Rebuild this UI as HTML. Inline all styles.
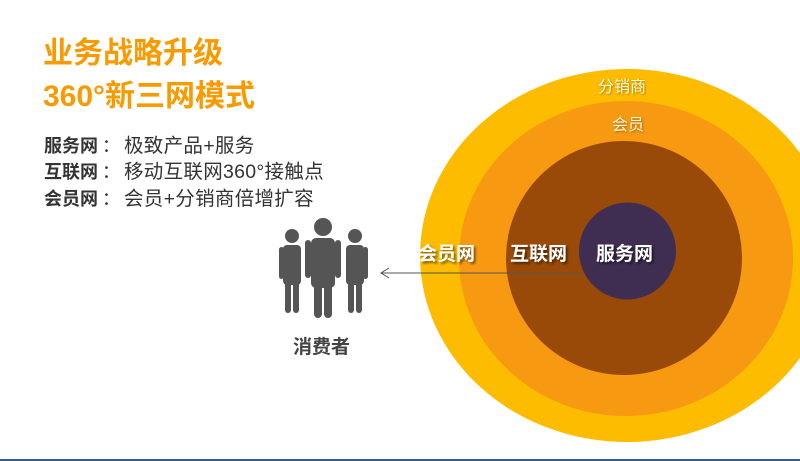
<!DOCTYPE html>
<html><head><meta charset="utf-8"><style>
body{margin:0;width:800px;height:461px;background:#fff;position:relative;overflow:hidden;font-family:"Liberation Sans","Noto Sans CJK SC",sans-serif}
.t{position:absolute;white-space:nowrap}
.h{color:#f99a00;font-weight:bold;font-size:30px;left:43px}
.l{left:44px;font-size:18px;color:#333}
.l b{color:#333}
.l i{font-style:normal;display:inline-block;width:26px;text-align:center}
.l span{font-size:19.5px;letter-spacing:0.3px}
.w{color:#fff;font-weight:bold;font-size:19px;text-shadow:2px 2px 2px rgba(0,0,0,.5)}
.s{color:#fff7d8;font-size:16px;text-shadow:1px 1px 2px rgba(0,0,0,.35)}
</style></head><body>
<svg width="800" height="461" style="position:absolute;left:0;top:0">
<ellipse cx="627" cy="255.5" rx="207" ry="186.5" fill="#fdbc00"/>
<ellipse cx="626" cy="258.5" rx="167" ry="157.5" fill="#f79a12"/>
<ellipse cx="624" cy="258" rx="118" ry="117" fill="#994a08"/>
<circle cx="627.5" cy="251" r="48.5" fill="#402e52"/>
<line x1="582" y1="273" x2="381" y2="273" stroke="#555" stroke-width="1"/>
<polyline points="389,268 381,273 389,278" fill="none" stroke="#555" stroke-width="1"/>
<rect x="0" y="459" width="800" height="2" fill="#3d5a8c"/>
<g fill="#555">
<circle cx="323" cy="227" r="9"/>
<rect x="311" y="238" width="24" height="50" rx="5"/>
<rect x="314" y="280" width="8" height="38" rx="4"/><rect x="324" y="280" width="8" height="38" rx="4"/>
<rect x="305" y="240" width="6" height="38" rx="3"/><rect x="335" y="240" width="6" height="38" rx="3"/>
<circle cx="292" cy="236" r="7"/>
<rect x="283" y="245" width="18" height="40" rx="4"/>
<rect x="285" y="280" width="6" height="33" rx="3"/><rect x="293" y="280" width="6" height="33" rx="3"/>
<rect x="279" y="247" width="5" height="32" rx="2.5"/>
<circle cx="355" cy="236" r="7"/>
<rect x="346" y="245" width="18" height="40" rx="4"/>
<rect x="348" y="280" width="6" height="33" rx="3"/><rect x="356" y="280" width="6" height="33" rx="3"/>
<rect x="363" y="247" width="5" height="32" rx="2.5"/>
</g>
</svg>
<div class="t h" style="top:28px">业务战略升级</div>
<div class="t h" style="top:71px">360°新三网模式</div>
<div class="t l" style="top:129px"><b>服务网</b><i>：</i><span>极致产品+服务</span></div>
<div class="t l" style="top:155px"><b>互联网</b><i>：</i><span>移动互联网360°接触点</span></div>
<div class="t l" style="top:182px"><b>会员网</b><i>：</i><span>会员+分销商倍增扩容</span></div>
<div class="t w" style="left:418px;top:239px">会员网</div>
<div class="t w" style="left:510px;top:239px">互联网</div>
<div class="t w" style="left:596px;top:239px">服务网</div>
<div class="t s" style="left:598px;top:73px">分销商</div>
<div class="t s" style="left:612px;top:111px">会员</div>
<div class="t" style="left:293px;top:332px;font-size:19px;font-weight:bold;color:#444">消费者</div>
</body></html>
